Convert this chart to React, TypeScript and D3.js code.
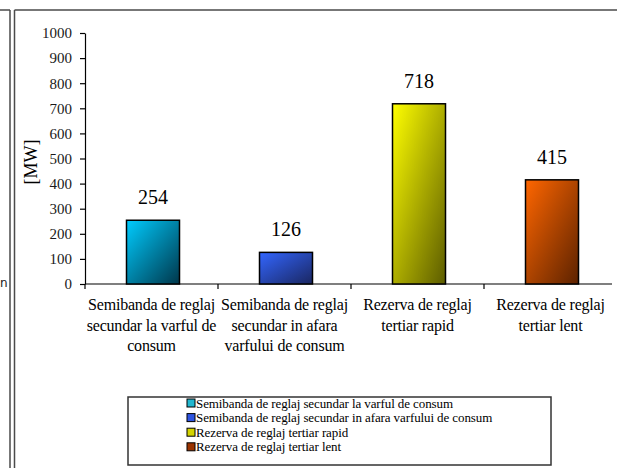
import React, { useEffect, useRef } from 'react';
import * as d3 from 'd3';

const categories = [
  'Semibanda de reglaj secundar la varful de consum',
  'Semibanda de reglaj secundar in afara varfului de consum',
  'Rezerva de reglaj tertiar rapid',
  'Rezerva de reglaj tertiar lent',
];
const values = [254, 126, 718, 415];
const labelLines = [
  ['Semibanda de reglaj', 'secundar la varful de', 'consum'],
  ['Semibanda de reglaj', 'secundar in afara', 'varfului de consum'],
  ['Rezerva de reglaj', 'tertiar rapid'],
  ['Rezerva de reglaj', 'tertiar lent'],
];
const lightColors = ['#00ccff', '#3366ff', '#ffff00', '#ff6600'];
const darkColors = ['#00364a', '#1a2660', '#5c5c00', '#5c2200'];
const legendColors = ['#22b8d0', '#2f55e0', '#d4d400', '#9a3300'];
const yTicks = d3.range(0, 1001, 100);

const FONT = 'Liberation Serif, Times New Roman, serif';

const App: React.FC = () => {
  const svgRef = useRef<SVGSVGElement>(null);
  const width = 617;
  const height = 468;

  useEffect(() => {
    if (!svgRef.current) return;
    const svg = d3.select(svgRef.current);
    svg.selectAll('*').remove();

    const x = d3.scaleBand<string>().domain(categories).range([85, 617]).padding(0);
    const y = d3.scaleLinear().domain([0, 1000]).range([284, 33]);

    // gradients
    const defs = svg.append('defs');
    categories.forEach((c, i) => {
      const g = defs
        .append('linearGradient')
        .attr('id', `grad${i}`)
        .attr('x1', 0)
        .attr('y1', 0)
        .attr('x2', 1)
        .attr('y2', 1);
      g.append('stop').attr('offset', '0%').attr('stop-color', lightColors[i]);
      g.append('stop').attr('offset', '100%').attr('stop-color', darkColors[i]);
    });

    // frame lines
    const frame = svg.append('g').attr('stroke', '#4a4a4a').attr('stroke-width', 1.5).attr('fill', 'none');
    frame.append('line').attr('x1', 0).attr('x2', 10).attr('y1', 10).attr('y2', 10);
    frame.append('line').attr('x1', 10).attr('x2', 10).attr('y1', 10).attr('y2', height);
    frame.append('line').attr('x1', 14.5).attr('x2', 14.5).attr('y1', 10).attr('y2', height);
    frame.append('line').attr('x1', 14.5).attr('x2', width).attr('y1', 10).attr('y2', 10);
    svg
      .append('text')
      .attr('x', 0)
      .attr('y', 287)
      .attr('font-family', 'DejaVu Sans, sans-serif')
      .attr('font-size', '12px')
      .attr('fill', '#222')
      .text('n');

    // y axis
    const yAxis = svg
      .append('g')
      .attr('transform', 'translate(85,0)')
      .call(
        d3
          .axisLeft(y)
          .tickValues(yTicks)
          .tickFormat(d3.format('d'))
          .tickSize(5)
          .tickSizeOuter(0)
          .tickPadding(8)
      );
    yAxis.select('.domain').attr('stroke', '#000').attr('stroke-width', 1.2);
    yAxis.selectAll('.tick line').attr('stroke', '#000').attr('stroke-width', 1.2);
    yAxis
      .selectAll('.tick text')
      .attr('font-family', FONT)
      .attr('font-size', '15px')
      .attr('fill', '#1a1a1a');

    svg
      .append('text')
      .attr('transform', 'translate(37,162) rotate(-90)')
      .attr('text-anchor', 'middle')
      .attr('font-family', FONT)
      .attr('font-size', '18px')
      .attr('fill', '#000')
      .text('[MW]');

    // x axis
    svg
      .append('line')
      .attr('x1', 85)
      .attr('x2', 612)
      .attr('y1', y(0))
      .attr('y2', y(0))
      .attr('stroke', '#000')
      .attr('stroke-width', 1.2);
    svg
      .selectAll('.xtick')
      .data(categories)
      .enter()
      .append('line')
      .attr('class', 'xtick')
      .attr('x1', d => x(d)!)
      .attr('x2', d => x(d)!)
      .attr('y1', y(0))
      .attr('y2', y(0) + 5)
      .attr('stroke', '#000')
      .attr('stroke-width', 1.2);

    const barW = 53;
    const bars = svg
      .selectAll('.bar')
      .data(values)
      .enter()
      .append('g')
      .attr('class', 'bar');

    bars
      .append('rect')
      .attr('x', (d, i) => x(categories[i])! + x.bandwidth() / 2 - barW / 2 + 1.5)
      .attr('y', d => y(d))
      .attr('width', barW)
      .attr('height', d => y(0) - y(d))
      .attr('fill', (d, i) => `url(#grad${i})`)
      .attr('stroke', '#000')
      .attr('stroke-width', 1.5);

    bars
      .append('text')
      .attr('x', (d, i) => x(categories[i])! + x.bandwidth() / 2 + 1.5)
      .attr('y', d => y(d) - 16)
      .attr('text-anchor', 'middle')
      .attr('font-family', FONT)
      .attr('font-size', '20px')
      .attr('fill', '#000')
      .text(d => d);

    // category labels
    labelLines.forEach((lines, i) => {
      const cx = x(categories[i])! + x.bandwidth() / 2;
      const t = svg
        .append('text')
        .attr('text-anchor', 'middle')
        .attr('font-family', FONT)
        .attr('font-size', '16px')
        .attr('letter-spacing', '-0.2px')
        .attr('fill', '#000');
      lines.forEach((line, j) => {
        t.append('tspan').attr('x', cx).attr('y', 310 + j * 20.5).text(line);
      });
    });

    // legend
    svg
      .append('rect')
      .attr('x', 128)
      .attr('y', 397)
      .attr('width', 423)
      .attr('height', 68)
      .attr('fill', '#fff')
      .attr('stroke', '#333')
      .attr('stroke-width', 1.5);

    const legend = svg
      .selectAll('.legend')
      .data(categories)
      .enter()
      .append('g')
      .attr('class', 'legend')
      .attr('transform', (d, i) => `translate(187, ${403 + i * 14.6})`);

    legend
      .append('rect')
      .attr('x', 0)
      .attr('y', -4)
      .attr('width', 8)
      .attr('height', 8)
      .attr('fill', (d, i) => legendColors[i])
      .attr('stroke', '#000')
      .attr('stroke-width', 1);

    legend
      .append('text')
      .attr('x', 9)
      .attr('y', 4.5)
      .attr('font-family', FONT)
      .attr('font-size', '13px')
      .attr('letter-spacing', '-0.1px')
      .attr('fill', '#000')
      .text(d => d);
  }, []);

  return (
    <svg
      ref={svgRef}
      width={width}
      height={height}
      style={{ position: 'absolute', left: 0, top: 0, background: '#fff' }}
    />
  );
};

export default App;
